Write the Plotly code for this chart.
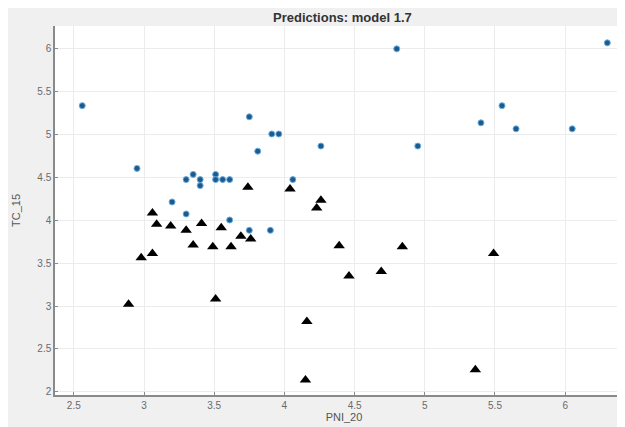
import plotly.graph_objects as go

# True responses (blue dots)
true_x = [2.56, 2.95, 3.30, 3.35, 3.40, 3.40, 3.51, 3.51, 3.56, 3.61,
          3.20, 3.30, 3.61, 3.75, 3.90, 4.06, 3.75, 3.81, 3.91, 3.96,
          4.26, 4.80, 4.95, 5.40, 5.55, 5.65, 6.05, 6.30]
true_y = [5.33, 4.60, 4.47, 4.53, 4.47, 4.40, 4.53, 4.47, 4.47, 4.47,
          4.21, 4.07, 4.00, 3.88, 3.88, 4.47, 5.20, 4.80, 5.00, 5.00,
          4.86, 5.99, 4.86, 5.13, 5.33, 5.06, 5.06, 6.06]

# Predicted responses (black triangles)
pred_x = [3.06, 3.09, 3.19, 3.30, 3.41, 3.55, 3.35, 3.49, 3.62, 3.69,
          3.76, 3.74, 2.98, 3.06, 2.89, 3.51, 4.04, 4.26, 4.23, 4.39,
          4.46, 4.69, 4.84, 5.49, 4.16, 4.15, 5.36]
pred_y = [4.08, 3.95, 3.93, 3.88, 3.96, 3.91, 3.71, 3.69, 3.69, 3.81,
          3.78, 4.38, 3.56, 3.61, 3.02, 3.08, 4.36, 4.23, 4.14, 3.70,
          3.35, 3.40, 3.69, 3.61, 2.82, 2.14, 2.26]

fig = go.Figure()
fig.add_trace(go.Scatter(x=true_x, y=true_y, mode="markers",
                         marker=dict(color="#1d5a8e", size=6,
                                     line=dict(color="#6aaee0", width=1)),
                         name="True", showlegend=False))
fig.add_trace(go.Scatter(x=pred_x, y=pred_y, mode="markers",
                         marker=dict(color="black", size=10, symbol="triangle-up"),
                         name="Predicted", showlegend=False))

axis_common = dict(showgrid=True, gridcolor="#ececec", gridwidth=1,
                   showline=True, linecolor="#8a8a8a", linewidth=1.5,
                   ticks="inside", ticklen=3, tickcolor="#8a8a8a",
                   tickfont=dict(family="Liberation Sans, Arial", size=10, color="#6a6a6a"),
                   zeroline=False, dtick=0.5, automargin=False)

fig.update_layout(
    width=625, height=427,
    paper_bgcolor="#f0f0f0", plot_bgcolor="white",
    margin=dict(l=47, r=0, t=18, b=40),
    title=dict(text="<b>Predictions: model 1.7</b>", x=0.535, xanchor="center",
               y=0.977, yanchor="middle",
               font=dict(family="Liberation Sans, Arial", size=13, color="#333")),
    xaxis=dict(range=[2.366, 6.483], tick0=2.5,
               title=dict(text="PNI_20", standoff=4,
                          font=dict(family="Liberation Sans, Arial", size=11, color="#555")),
               **axis_common),
    yaxis=dict(range=[1.965, 6.256], tick0=2,
               title=dict(text="TC_15", standoff=14,
                          font=dict(family="Liberation Sans, Arial", size=11, color="#555")),
               **axis_common),
)

fig.write_html("out.html")
